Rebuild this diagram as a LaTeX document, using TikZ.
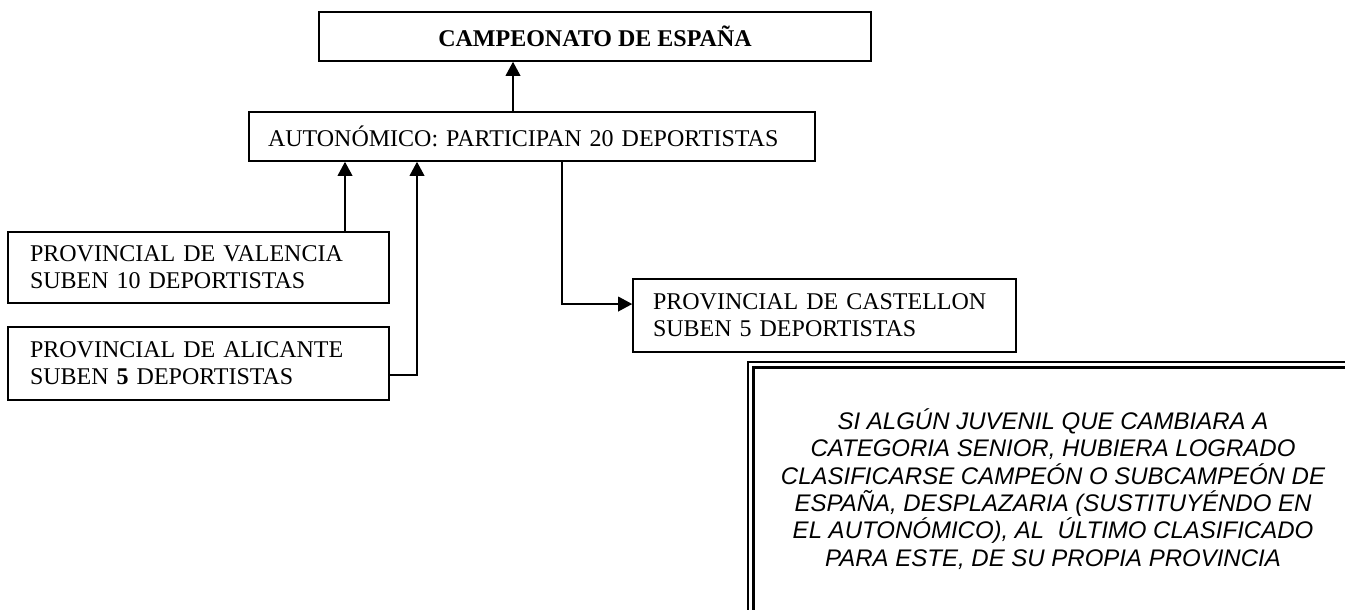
\documentclass[tikz,border=0pt]{standalone}
\usepackage{fontspec}
\setmainfont{Liberation Serif}
\newfontfamily\notefont{Liberation Sans}
\usetikzlibrary{arrows.meta}

\begin{document}
\begin{tikzpicture}[x=0.75pt,y=-0.75pt,
		box/.style={draw,line width=1.2pt,align=left,inner ysep=0pt,font=\fontsize{18}{20.25}\selectfont},
		conn/.style={line width=1.1pt,-{Triangle[width=11pt,length=10.5pt]}}]
	\useasboundingbox (0,0) rectangle (1345,610);
	\clip (0,0) rectangle (1345,610);
	\node[box,align=center,minimum width=414pt,minimum height=36.75pt,font=\fontsize{18}{20}\selectfont\bfseries] (espana) at (595,36.5) {CAMPEONATO DE ESPAÑA};
	\node[box,inner xsep=14.25pt,text width=396pt,minimum height=36.75pt] (auto) at (532,136.5) {AUTONÓMICO: PARTICIPAN 20 DEPORTISTAS};
	\node[box,inner xsep=16.5pt,text width=252.75pt,minimum height=53.25pt] (valencia) at (198.5,267.5) {PROVINCIAL DE VALENCIA\\SUBEN 10 DEPORTISTAS};
	\node[box,inner xsep=16.5pt,text width=252.75pt,minimum height=54.75pt] (alicante) at (198.5,363.5) {PROVINCIAL DE ALICANTE\\SUBEN \textbf{5} DEPORTISTAS};
	\node[box,inner xsep=15pt,text width=257.25pt,minimum height=54.75pt] (castellon) at (824.5,315.5) {PROVINCIAL DE CASTELLON\\SUBEN 5 DEPORTISTAS};
	% marco doble, cortado por el borde
	\node[draw,line width=1pt,minimum width=457.5pt,minimum height=237pt] (nota) at (1053,520) {};
	\draw[line width=2pt] ([shift={(6,6)}]nota.north west) rectangle ([shift={(-6,-6)}]nota.south east);
	\node[align=center,font=\notefont\itshape\fontsize{18}{20.5}\selectfont] (notatexto) at ([yshift=23.25pt]nota.center) {SI ALGÚN JUVENIL QUE CAMBIARA A\\CATEGORIA SENIOR, HUBIERA LOGRADO\\CLASIFICARSE CAMPEÓN O SUBCAMPEÓN DE\\ESPAÑA, DESPLAZARIA (SUSTITUYÉNDO EN\\EL AUTONÓMICO), AL\ \ ÚLTIMO CLASIFICADO\\PARA ESTE, DE SU PROPIA PROVINCIA};
	\draw[conn] (auto.north -| 513,0) -- (espana.south -| 513,0);
	\draw[conn] (valencia.north -| 345,0) -- (auto.south -| 345,0);
	\draw[conn] ([yshift=-8.6pt]alicante.east) -| (auto.south -| 417,0);
	\draw[conn] (auto.south -| 562,0) |- ([yshift=8.6pt]castellon.west);
\end{tikzpicture}
\end{document}
